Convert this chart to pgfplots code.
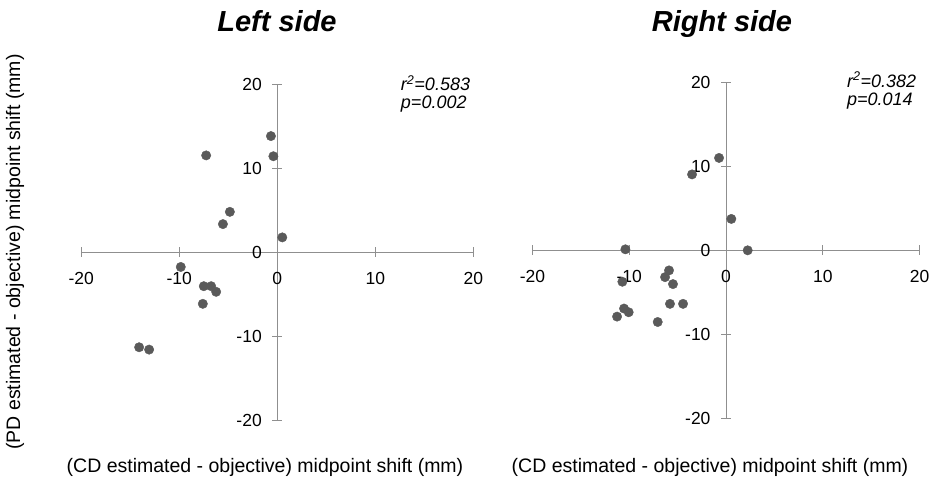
\documentclass[border=0pt]{standalone}
\usepackage{pgfplots}
\pgfplotsset{compat=1.18}
\usepackage{fontspec}
\setmainfont{Liberation Sans}
\definecolor{ptc}{HTML}{5A5A5A}
\definecolor{axc}{HTML}{8F8F8F}
\begin{document}
\begin{tikzpicture}
\path[use as bounding box] (0pt,0pt) rectangle (944pt,479pt);
\pgfplotsset{myax/.style={axis lines=middle, scale only axis, height=336pt,
  xmin=-20,xmax=20,ymin=-20,ymax=20,
  xtick={-20,-10,0,10,20}, ytick={-20,-10,0,10,20},
  hide obscured x ticks=false, hide obscured y ticks=false,
  axis line style={axc, line width=0.9pt, -},
  tick style={axc, line width=0.8pt}, tick align=center, major tick length=10pt,
  ticklabel style={font=\fontsize{17.5}{20}\selectfont},
  /pgf/number format/assume math mode=true,
  clip=false, anchor=origin,
  x tick label style={anchor=north, yshift=-12pt},
  y tick label style={anchor=east, xshift=-7pt}}}
\begin{axis}[myax, at={(277.3pt,227pt)}, width=392pt]
\addplot[only marks, mark=*, mark size=4.7pt, mark options={fill=ptc, draw=ptc}] coordinates {
(-0.65,13.8) (-7.26,11.5) (-0.4,11.4) (-4.84,4.78) (-5.55,3.32) (0.51,1.74)
(-9.85,-1.78) (-7.5,-4.07) (-6.75,-4.07) (-6.24,-4.74) (-7.6,-6.17)
(-14.1,-11.34) (-13.08,-11.62)};
\node[anchor=north west, font=\fontsize{18}{18}\selectfont\itshape, align=left, inner sep=0pt] at (axis cs:12.6,21) {r\textsuperscript{2}=0.583\\p=0.002};
\end{axis}
\begin{axis}[myax, at={(726pt,229pt)}, width=387pt]
\addplot[only marks, mark=*, mark size=4.7pt, mark options={fill=ptc, draw=ptc}] coordinates {
(-0.72,10.96) (-3.51,9.0) (0.55,3.7) (-10.4,0.08) (2.24,-0.04)
(-5.89,-2.43) (-6.3,-3.23) (-5.48,-4.06) (-10.71,-3.78) (-5.79,-6.41)
(-4.44,-6.41) (-10.54,-6.97) (-10.06,-7.41) (-11.26,-7.93) (-7.06,-8.57)};
\node[anchor=north west, font=\fontsize{18}{18}\selectfont\itshape, align=left, inner sep=0pt] at (axis cs:12.5,21.2) {r\textsuperscript{2}=0.382\\p=0.014};
\end{axis}
\node[anchor=base, font=\fontsize{29}{32}\selectfont\bfseries\itshape] at (277pt,447.5pt) {Left side};
\node[anchor=base, font=\fontsize{29}{32}\selectfont\bfseries\itshape] at (722pt,447.5pt) {Right side};
\node[font=\fontsize{19.5}{22}\selectfont] at (265pt,12pt) {(CD estimated - objective) midpoint shift (mm)};
\node[font=\fontsize{19.5}{22}\selectfont] at (710pt,12pt) {(CD estimated - objective) midpoint shift (mm)};
\node[font=\fontsize{19.5}{22}\selectfont, rotate=90] at (15pt,227pt) {(PD estimated - objective) midpoint shift (mm)};
\end{tikzpicture}
\end{document}
